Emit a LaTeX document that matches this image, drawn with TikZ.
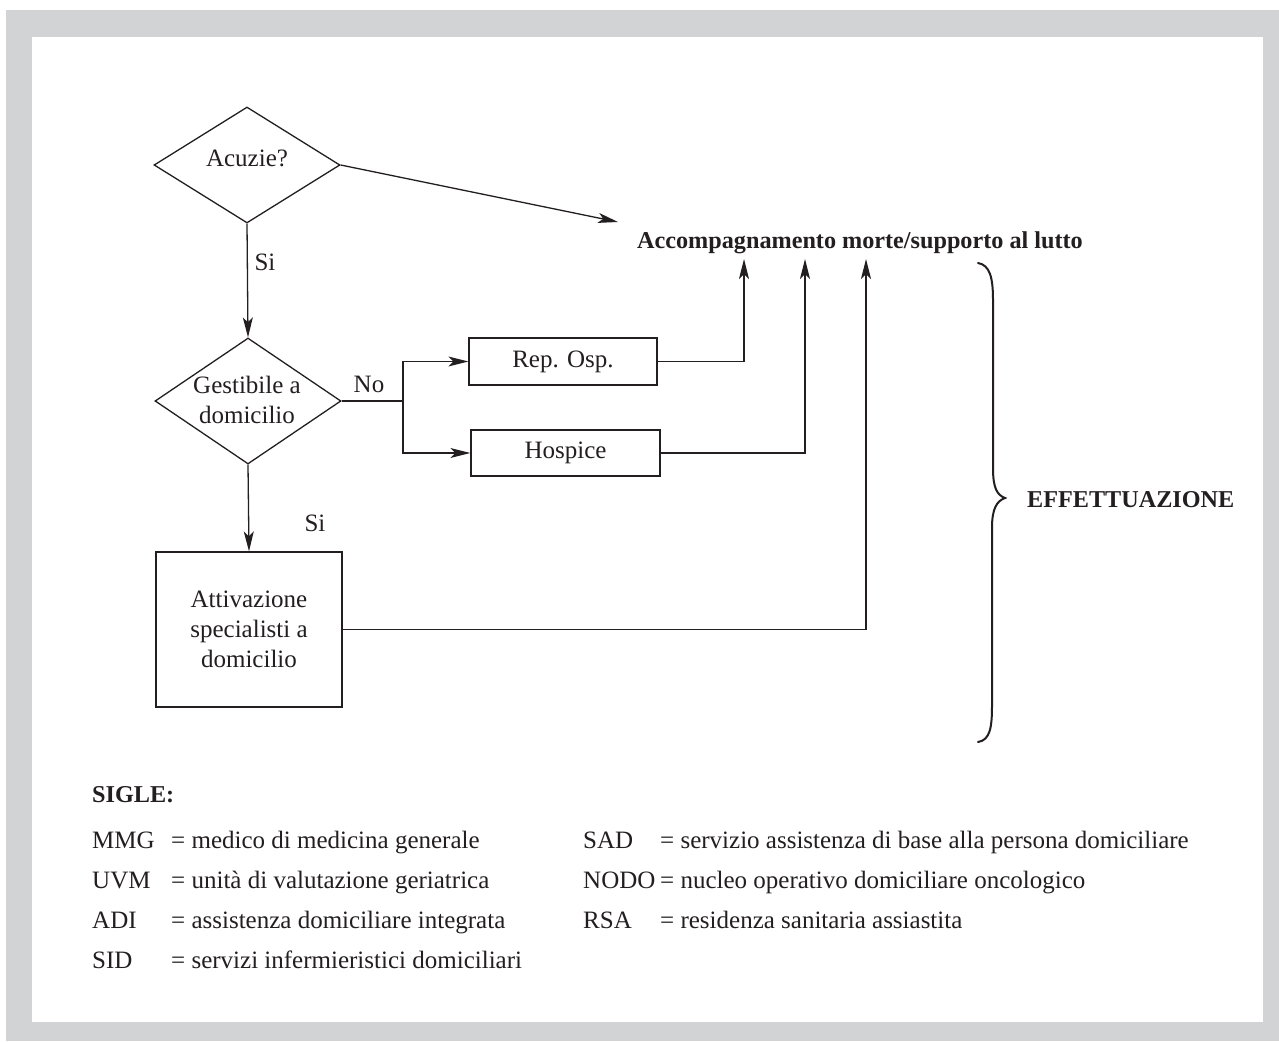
\documentclass[tikz,border=0pt]{standalone}
\usepackage{fontspec}
\setmainfont{Liberation Serif}
\usetikzlibrary{shapes.geometric,arrows.meta,calc}
\definecolor{panelgray}{HTML}{D1D3D4}
\definecolor{ink}{HTML}{231F20}
\begin{document}
\begin{tikzpicture}[x=1pt,y=-1pt,
  every node/.style={text=ink,font=\fontsize{25}{30}\selectfont},
  line/.style={draw=ink,line width=1.3pt},
  arr/.style={line,-{Stealth[length=20pt,width=10pt,inset=5pt]}},
  decision/.style={diamond,draw=ink,line width=1.3pt,inner sep=0pt,aspect=1.6,align=center},
  stepbox/.style={rectangle,draw=ink,line width=1.3pt,inner sep=0pt,align=center},
  lbl/.style={inner sep=0pt},
  key/.style={inner sep=0pt,anchor=base west},
  head/.style={inner sep=0pt,font=\bfseries\fontsize{24.2}{30}\selectfont}]

% page and grey frame
\useasboundingbox (0,0) rectangle (1279,1041);
\fill[panelgray] (6,10) rectangle (1279,1041);
\fill[white] (32,37) rectangle (1263,1022);

% flow chart nodes
\node[decision,minimum width=186pt,minimum height=116pt] (acute) at (247,165) {};
\node[lbl] at (247,158) {Acuzie?};
\node[decision,minimum width=186pt,minimum height=126pt] (home) at (248,401) {};
\node[lbl,align=center] at (247,400) {Gestibile a\\domicilio};
\node[stepbox,minimum width=188pt,minimum height=47pt] (hosp) at (563,361.5) {Rep. Osp.};
\node[stepbox,minimum width=189pt,minimum height=46pt] (hospice) at (565.5,453) {Hospice};
\node[stepbox,minimum width=186pt,minimum height=155pt] (spec) at (249,629.5) {Attivazione\\specialisti a\\domicilio};
\node[head,anchor=base] (goal) at (860,248) {Accompagnamento morte/supporto al lutto};

% connector end points
\coordinate (goalin) at (618,222);
\coordinate (up1) at (744,259);
\coordinate (up2) at (805,259);
\coordinate (up3) at (866,259);
\coordinate (split) at (403,401);

% connectors
\draw[arr] (acute.east) -- (goalin);
\draw[arr] (acute.south) -- (home.north);
\draw[arr] (home.south) -- (spec.north);
\draw[line] (home.east) -- (split);
\draw[arr] (split) |- (hosp.west);
\draw[arr] (split) |- (hospice.west);
\draw[arr] (hosp.east) -| (up1);
\draw[arr] (hospice.east) -| (up2);
\draw[arr] (spec.east) -| (up3);

% branch labels
\node[lbl] (si1) at (265,262) {Si};
\node[lbl] (no) at (369,384) {No};
\node[lbl] (si2) at (315,523) {Si};

% brace and phase label
\draw[draw=ink,line width=2pt,line cap=round]
  (978,263) .. controls (990,265) and (993,278) .. (993,300)
  -- (993,468) .. controls (993,488) and (997,495) .. (1005,498)
  .. controls (997,501) and (992,508) .. (992,528)
  -- (992,705) .. controls (992,728) and (990,740) .. (978,742);
\node[head,anchor=base west] (phase) at (1027,507) {EFFETTUAZIONE};

% abbreviations
\node[head,anchor=base west] (sigle) at (92,802) {SIGLE:};
\node[key] (k1) at (92,848) {MMG};
\node[key] at (171,848) {= medico di medicina generale};
\node[key] (k2) at (92,888) {UVM};
\node[key] at (171,888) {= unità di valutazione geriatrica};
\node[key] (k3) at (92,928) {ADI};
\node[key] at (171,928) {= assistenza domiciliare integrata};
\node[key] (k4) at (92,968) {SID};
\node[key] at (171,968) {= servizi infermieristici domiciliari};
\node[key] (k5) at (583,848) {SAD};
\node[key] at (660,848) {= servizio assistenza di base alla persona domiciliare};
\node[key] (k6) at (583,888) {NODO};
\node[key] at (660,888) {= nucleo operativo domiciliare oncologico};
\node[key] (k7) at (583,928) {RSA};
\node[key] at (660,928) {= residenza sanitaria assiastita};
\end{tikzpicture}
\end{document}
